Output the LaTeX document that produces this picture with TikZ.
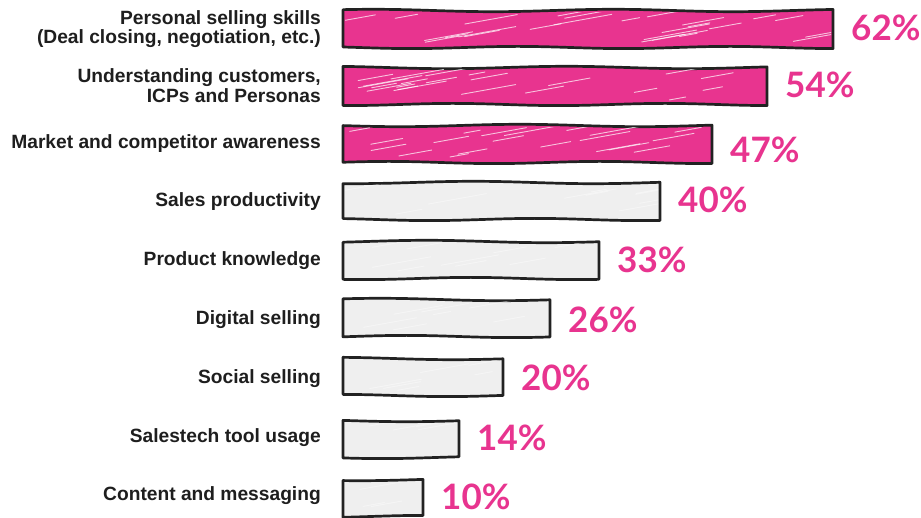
\documentclass[tikz,border=0pt]{standalone}
\usepackage{fontspec}
\setmainfont{Liberation Sans}
\newfontfamily\pctfont{Lato}
\definecolor{pinkbar}{HTML}{E8348F}
\definecolor{graybar}{HTML}{EFEFEF}
\definecolor{outl}{HTML}{222222}
\definecolor{txt}{HTML}{1E1E1E}
\begin{document}
\begin{tikzpicture}[x=1pt,y=-1pt,
  cat/.style={anchor=east, align=right, inner sep=0pt, text=txt,
    font=\fontsize{19.2}{19.8}\selectfont\bfseries},
  pct/.style={anchor=west, inner sep=0pt, text=pinkbar,
    font=\pctfont\fontsize{35}{35}\selectfont\bfseries},
  barslot/.style={anchor=west, minimum height=38pt, inner sep=0pt},
  baredge/.style={draw=outl, line width=2.7pt, line join=round},
  streak/.style={draw=white, line width=0.9pt, line cap=round}
]
\useasboundingbox (0,0) rectangle (921,518);
\fill[white] (0,0) rectangle (921,518);
\pgfmathsetseed{7}
\foreach \n/\r/\cy/\col/\p/\py/\so/\ns in {
  1/833/29/pinkbar/62\%/28/0.7/26,
  2/767/86/pinkbar/54\%/85/0.7/22,
  3/712/144/pinkbar/47\%/150/0.7/20,
  4/660/201/graybar/40\%/200/0.4/10,
  5/599/260/graybar/33\%/260/0.4/9,
  6/550/318/graybar/26\%/320/0.4/7,
  7/503/377/graybar/20\%/378/0.4/6,
  8/459/439/graybar/14\%/438/0.4/4,
  9/423/498/graybar/10\%/497/0.4/3}{
  \pgfmathsetmacro\w{\r-343}
  \node[barslot, minimum width=\w pt] (bar\n) at (343,\cy) {};
  \path[baredge, fill=\col]
    plot[domain=343:\r, samples=40, smooth] (\x,{\cy-18.5+1.2*sin(1.5*\x+\n*70)})
    -- plot[domain=\r:343, samples=40, smooth] (\x,{\cy+18.5+1.1*sin(1.7*\x+\n*110)})
    -- cycle;
  \begin{scope}
    \clip (345,\cy-16) rectangle (\r-2,\cy+16);
    \foreach \k in {1,...,\ns}{
      \pgfmathsetmacro\xx{343+rnd*(\w-20)}
      \pgfmathsetmacro\yy{\cy-14+rnd*28}
      \pgfmathsetmacro\ll{15+rnd*45}
      \draw[streak, opacity=\so] (\xx,\yy) -- ++(\ll,-0.18*\ll);
    }
  \end{scope}
  \node[pct] (pct\n) at (\r+18,\py) {\p};
}
\node[cat] (lab1) at (321,29) {Personal selling skills\\(Deal closing, negotiation, etc.)};
\node[cat] (lab2) at (321,86) {Understanding customers,\\ICPs and Personas};
\node[cat] (lab3) at (321,144) {Market and competitor awareness};
\node[cat] (lab4) at (321,202) {Sales productivity};
\node[cat] (lab5) at (321,261) {Product knowledge};
\node[cat] (lab6) at (321,320) {Digital selling};
\node[cat] (lab7) at (321,379) {Social selling};
\node[cat] (lab8) at (321,438) {Salestech tool usage};
\node[cat] (lab9) at (321,496) {Content and messaging};
\end{tikzpicture}
\end{document}
